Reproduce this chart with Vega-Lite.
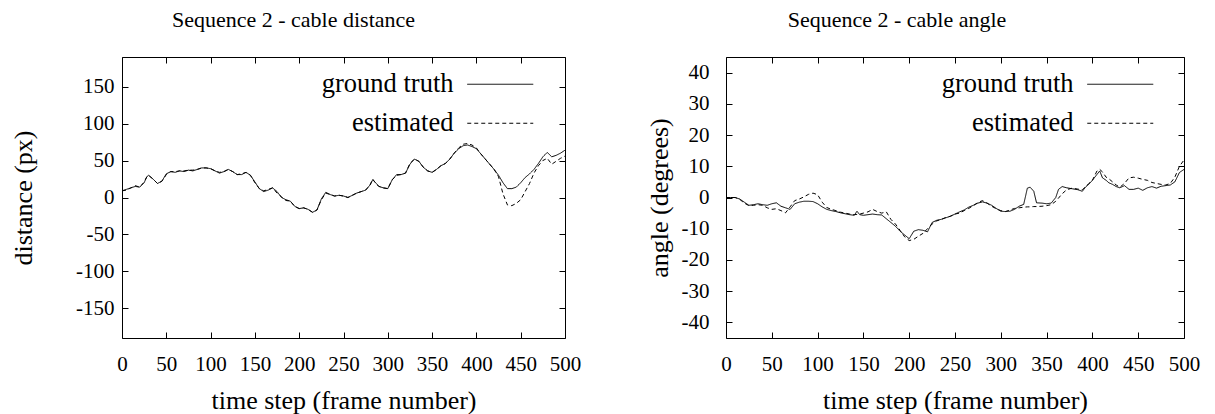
{
  "$schema": "https://vega.github.io/schema/vega-lite/v6.json",
  "background": "white",
  "padding": {"left": 10, "top": 8, "right": 0, "bottom": 0},
  "spacing": 161,
  "bounds": "flush",
  "datasets": {
    "dist": [
      {"t":0,"ground truth":9,"estimated":9},{"t":5,"ground truth":11,"estimated":10},{"t":10,"ground truth":13,"estimated":13},{"t":15,"ground truth":15,"estimated":16},{"t":20,"ground truth":14,"estimated":14},{"t":25,"ground truth":20,"estimated":21},{"t":28,"ground truth":28,"estimated":28},{"t":30,"ground truth":30,"estimated":30},{"t":35,"ground truth":25,"estimated":25},{"t":40,"ground truth":19,"estimated":19},{"t":45,"ground truth":22,"estimated":22},{"t":50,"ground truth":32,"estimated":31},{"t":55,"ground truth":35,"estimated":35},{"t":60,"ground truth":34,"estimated":35},{"t":65,"ground truth":36,"estimated":36},{"t":70,"ground truth":35,"estimated":36},{"t":75,"ground truth":37,"estimated":37},{"t":80,"ground truth":36,"estimated":37},{"t":85,"ground truth":38,"estimated":38},{"t":90,"ground truth":40,"estimated":40},{"t":95,"ground truth":40,"estimated":40},{"t":100,"ground truth":39,"estimated":39},{"t":105,"ground truth":36,"estimated":36},{"t":110,"ground truth":33,"estimated":34},{"t":115,"ground truth":35,"estimated":35},{"t":120,"ground truth":38,"estimated":38},{"t":125,"ground truth":35,"estimated":35},{"t":130,"ground truth":31,"estimated":31},{"t":135,"ground truth":31,"estimated":32},{"t":140,"ground truth":34,"estimated":34},{"t":145,"ground truth":30,"estimated":30},{"t":150,"ground truth":21,"estimated":20},{"t":155,"ground truth":12,"estimated":12},{"t":160,"ground truth":8,"estimated":9},{"t":165,"ground truth":10,"estimated":11},{"t":170,"ground truth":13,"estimated":13},{"t":175,"ground truth":8,"estimated":6},{"t":180,"ground truth":0,"estimated":1},{"t":185,"ground truth":-3,"estimated":-4},{"t":190,"ground truth":-5,"estimated":-5},{"t":195,"ground truth":-12,"estimated":-12},{"t":200,"ground truth":-15,"estimated":-15},{"t":205,"ground truth":-14,"estimated":-14},{"t":210,"ground truth":-16,"estimated":-16},{"t":215,"ground truth":-20,"estimated":-20},{"t":220,"ground truth":-17,"estimated":-17},{"t":225,"ground truth":-2,"estimated":-3},{"t":230,"ground truth":7,"estimated":6},{"t":235,"ground truth":4,"estimated":4},{"t":240,"ground truth":2,"estimated":2},{"t":245,"ground truth":3,"estimated":3},{"t":250,"ground truth":2,"estimated":2},{"t":255,"ground truth":0,"estimated":0},{"t":260,"ground truth":3,"estimated":3},{"t":265,"ground truth":6,"estimated":6},{"t":270,"ground truth":8,"estimated":8},{"t":275,"ground truth":10,"estimated":10},{"t":280,"ground truth":17,"estimated":17},{"t":283,"ground truth":24,"estimated":25},{"t":287,"ground truth":19,"estimated":18},{"t":290,"ground truth":15,"estimated":15},{"t":295,"ground truth":13,"estimated":13},{"t":300,"ground truth":12,"estimated":12},{"t":305,"ground truth":24,"estimated":24},{"t":310,"ground truth":31,"estimated":30},{"t":315,"ground truth":31,"estimated":31},{"t":320,"ground truth":33,"estimated":33},{"t":325,"ground truth":45,"estimated":46},{"t":330,"ground truth":52,"estimated":52},{"t":335,"ground truth":49,"estimated":49},{"t":340,"ground truth":41,"estimated":41},{"t":345,"ground truth":36,"estimated":36},{"t":350,"ground truth":34,"estimated":34},{"t":355,"ground truth":38,"estimated":38},{"t":360,"ground truth":43,"estimated":43},{"t":365,"ground truth":46,"estimated":46},{"t":370,"ground truth":52,"estimated":52},{"t":375,"ground truth":60,"estimated":60},{"t":380,"ground truth":66,"estimated":67},{"t":385,"ground truth":70,"estimated":72},{"t":390,"ground truth":71,"estimated":73},{"t":395,"ground truth":69,"estimated":71},{"t":400,"ground truth":66,"estimated":67},{"t":405,"ground truth":59,"estimated":59},{"t":410,"ground truth":52,"estimated":52},{"t":415,"ground truth":45,"estimated":45},{"t":420,"ground truth":38,"estimated":38},{"t":425,"ground truth":30,"estimated":28},{"t":430,"ground truth":20,"estimated":5},{"t":435,"ground truth":12,"estimated":-10},{"t":440,"ground truth":12,"estimated":-11},{"t":445,"ground truth":14,"estimated":-8},{"t":450,"ground truth":20,"estimated":-3},{"t":455,"ground truth":27,"estimated":8},{"t":460,"ground truth":32,"estimated":19},{"t":465,"ground truth":38,"estimated":33},{"t":470,"ground truth":46,"estimated":43},{"t":475,"ground truth":55,"estimated":50},{"t":480,"ground truth":61,"estimated":53},{"t":485,"ground truth":55,"estimated":45},{"t":490,"ground truth":57,"estimated":49},{"t":495,"ground truth":60,"estimated":53},{"t":500,"ground truth":64,"estimated":56}
    ],
    "ang": [
      {"t":0,"ground truth":0,"estimated":0},{"t":5,"ground truth":0,"estimated":0},{"t":10,"ground truth":0,"estimated":0},{"t":15,"ground truth":-0.5,"estimated":-0.6},{"t":20,"ground truth":-1.5,"estimated":-1.8},{"t":25,"ground truth":-2.5,"estimated":-2.6},{"t":30,"ground truth":-2.3,"estimated":-2.5},{"t":35,"ground truth":-2,"estimated":-2.3},{"t":40,"ground truth":-2.3,"estimated":-2.5},{"t":45,"ground truth":-2.5,"estimated":-3.3},{"t":50,"ground truth":-2,"estimated":-3.8},{"t":55,"ground truth":-1.7,"estimated":-3.6},{"t":60,"ground truth":-2.8,"estimated":-4.2},{"t":65,"ground truth":-3.3,"estimated":-4.9},{"t":70,"ground truth":-3.8,"estimated":-3},{"t":75,"ground truth":-2,"estimated":-1},{"t":80,"ground truth":-1.5,"estimated":-0.5},{"t":85,"ground truth":-1.2,"estimated":0.2},{"t":90,"ground truth":-1.2,"estimated":1},{"t":95,"ground truth":-1.3,"estimated":1.4},{"t":100,"ground truth":-2,"estimated":0.9},{"t":105,"ground truth":-3,"estimated":-1.5},{"t":110,"ground truth":-3.8,"estimated":-3.2},{"t":115,"ground truth":-4.2,"estimated":-3.8},{"t":120,"ground truth":-4.5,"estimated":-4.2},{"t":125,"ground truth":-4.9,"estimated":-4.7},{"t":130,"ground truth":-5.2,"estimated":-5},{"t":135,"ground truth":-5.5,"estimated":-5.3},{"t":140,"ground truth":-5.7,"estimated":-5.5},{"t":143,"ground truth":-4.4,"estimated":-5.4},{"t":146,"ground truth":-5.5,"estimated":-5.3},{"t":150,"ground truth":-5.7,"estimated":-5},{"t":155,"ground truth":-5.5,"estimated":-4.6},{"t":160,"ground truth":-5.3,"estimated":-3.8},{"t":165,"ground truth":-5.5,"estimated":-4.5},{"t":170,"ground truth":-5.6,"estimated":-5},{"t":175,"ground truth":-6.8,"estimated":-4.6},{"t":180,"ground truth":-8,"estimated":-7},{"t":185,"ground truth":-9.2,"estimated":-8.5},{"t":190,"ground truth":-10.8,"estimated":-10.5},{"t":195,"ground truth":-12,"estimated":-12.6},{"t":200,"ground truth":-13.2,"estimated":-13.8},{"t":205,"ground truth":-10.8,"estimated":-13.4},{"t":210,"ground truth":-10.3,"estimated":-12.4},{"t":215,"ground truth":-10.5,"estimated":-11.5},{"t":220,"ground truth":-11,"estimated":-10},{"t":225,"ground truth":-8,"estimated":-8.5},{"t":230,"ground truth":-7.3,"estimated":-7.5},{"t":235,"ground truth":-7,"estimated":-7},{"t":240,"ground truth":-6.5,"estimated":-6.4},{"t":245,"ground truth":-6,"estimated":-6},{"t":250,"ground truth":-5.3,"estimated":-5.3},{"t":255,"ground truth":-4.6,"estimated":-5},{"t":260,"ground truth":-4,"estimated":-4.2},{"t":265,"ground truth":-3.1,"estimated":-3.5},{"t":270,"ground truth":-2.5,"estimated":-2.6},{"t":275,"ground truth":-1.8,"estimated":-1.6},{"t":280,"ground truth":-1.4,"estimated":-1},{"t":285,"ground truth":-1.8,"estimated":-1.8},{"t":290,"ground truth":-2.5,"estimated":-2.8},{"t":295,"ground truth":-3.5,"estimated":-3.6},{"t":300,"ground truth":-4.4,"estimated":-4.2},{"t":305,"ground truth":-4.5,"estimated":-4.5},{"t":310,"ground truth":-4.4,"estimated":-4},{"t":315,"ground truth":-3.8,"estimated":-3.5},{"t":320,"ground truth":-2.8,"estimated":-3.3},{"t":325,"ground truth":-2.2,"estimated":-3.1},{"t":329,"ground truth":3,"estimated":-3},{"t":332,"ground truth":3.3,"estimated":-3},{"t":336,"ground truth":2,"estimated":-2.9},{"t":339,"ground truth":-1.7,"estimated":-2.9},{"t":345,"ground truth":-1.8,"estimated":-2.8},{"t":350,"ground truth":-2,"estimated":-2.6},{"t":355,"ground truth":-1.8,"estimated":-2.3},{"t":360,"ground truth":0,"estimated":-1.2},{"t":363,"ground truth":2.6,"estimated":-0.2},{"t":367,"ground truth":3.5,"estimated":1.2},{"t":372,"ground truth":3.1,"estimated":2.5},{"t":378,"ground truth":2.8,"estimated":3},{"t":384,"ground truth":2.5,"estimated":2.7},{"t":389,"ground truth":2,"estimated":2.5},{"t":393,"ground truth":3.5,"estimated":3.5},{"t":396,"ground truth":4.2,"estimated":4.5},{"t":400,"ground truth":5.5,"estimated":5.5},{"t":405,"ground truth":7.4,"estimated":8.5},{"t":408,"ground truth":8.5,"estimated":9},{"t":411,"ground truth":6.3,"estimated":8.2},{"t":415,"ground truth":5.5,"estimated":6.5},{"t":418,"ground truth":4.7,"estimated":6},{"t":422,"ground truth":4.2,"estimated":5},{"t":426,"ground truth":3.5,"estimated":4},{"t":430,"ground truth":3.1,"estimated":3.3},{"t":435,"ground truth":3.8,"estimated":4.5},{"t":440,"ground truth":2.6,"estimated":6.3},{"t":445,"ground truth":2.6,"estimated":6.5},{"t":450,"ground truth":3,"estimated":6.2},{"t":455,"ground truth":2.3,"estimated":5.8},{"t":460,"ground truth":3.1,"estimated":5.5},{"t":465,"ground truth":3.5,"estimated":4.8},{"t":470,"ground truth":3,"estimated":4.5},{"t":475,"ground truth":3.6,"estimated":4.2},{"t":480,"ground truth":3.8,"estimated":4},{"t":485,"ground truth":4,"estimated":4.5},{"t":490,"ground truth":5,"estimated":6.5},{"t":495,"ground truth":8,"estimated":10},{"t":500,"ground truth":9,"estimated":12}
    ]
  },
  "hconcat": [
    {
      "width": 443,
      "height": 281,
      "title": {"text": "Sequence 2 - cable distance", "dx": -50, "offset": 8, "baseline": "alphabetic"},
      "data": {"name": "dist"},
      "transform": [{"fold": ["ground truth", "estimated"], "as": ["series", "value"]}],
      "layer": [
        {
          "mark": {"type": "line", "strokeWidth": 1, "color": "black"},
          "encoding": {
            "x": {"field": "t", "type": "quantitative", "scale": {"domain": [0, 500], "nice": false},
                  "axis": {"orient": "bottom", "title": "time step (frame number)", "values": [0,50,100,150,200,250,300,350,400,450,500], "labelPadding": 21, "titlePadding": 13}},
            "y": {"field": "value", "type": "quantitative", "scale": {"domain": [-190, 190], "nice": false},
                  "axis": {"orient": "left", "title": "distance (px)", "values": [-150,-100,-50,0,50,100,150], "labelPadding": 14, "titlePadding": 39}},
            "strokeDash": {"field": "series", "type": "nominal",
                  "scale": {"domain": ["ground truth", "estimated"], "range": [[1, 0], [4, 3]]},
                  "legend": {"title": null, "orient": "none", "legendX": 365, "legendY": 14}}
          }
        },
        {
          "mark": {"type": "point", "opacity": 0, "size": 1},
          "encoding": {
            "x": {"field": "t", "type": "quantitative", "axis": {"orient": "top", "labels": false, "title": null, "values": [0,50,100,150,200,250,300,350,400,450,500]}},
            "y": {"field": "value", "type": "quantitative", "axis": {"orient": "right", "labels": false, "title": null, "values": [-150,-100,-50,0,50,100,150]}}
          }
        }
      ],
      "resolve": {"axis": {"x": "independent", "y": "independent"}}
    },
    {
      "width": 458,
      "height": 281,
      "title": {"text": "Sequence 2 - cable angle", "dx": -58, "offset": 8, "baseline": "alphabetic"},
      "data": {"name": "ang"},
      "transform": [{"fold": ["ground truth", "estimated"], "as": ["series", "value"]}],
      "layer": [
        {
          "mark": {"type": "line", "strokeWidth": 1, "color": "black"},
          "encoding": {
            "x": {"field": "t", "type": "quantitative", "scale": {"domain": [0, 500], "nice": false},
                  "axis": {"orient": "bottom", "title": "time step (frame number)", "values": [0,50,100,150,200,250,300,350,400,450,500], "labelPadding": 21, "titlePadding": 13}},
            "y": {"field": "value", "type": "quantitative", "scale": {"domain": [-45, 45], "nice": false},
                  "axis": {"orient": "left", "title": "angle (degrees)", "values": [-40,-30,-20,-10,0,10,20,30,40], "labelPadding": 23, "titlePadding": 9}},
            "strokeDash": {"field": "series", "type": "nominal",
                  "scale": {"domain": ["ground truth", "estimated"], "range": [[1, 0], [4, 3]]},
                  "legend": {"title": null, "orient": "none", "legendX": 381, "legendY": 14}}
          }
        },
        {
          "mark": {"type": "point", "opacity": 0, "size": 1},
          "encoding": {
            "x": {"field": "t", "type": "quantitative", "axis": {"orient": "top", "labels": false, "title": null, "values": [0,50,100,150,200,250,300,350,400,450,500]}},
            "y": {"field": "value", "type": "quantitative", "axis": {"orient": "right", "labels": false, "title": null, "values": [-40,-30,-20,-10,0,10,20,30,40]}}
          }
        }
      ],
      "resolve": {"axis": {"x": "independent", "y": "independent"}}
    }
  ],
  "resolve": {"scale": {"strokeDash": "independent"}, "legend": {"strokeDash": "independent"}},
  "config": {
    "font": "Liberation Serif",
    "view": {"stroke": "black", "strokeWidth": 1},
    "axis": {"labelFont": "Liberation Serif", "labelFontSize": 21, "labelColor": "black", "labelExpr": "'' + datum.value", "titleFont": "Liberation Serif", "titleFontSize": 26, "titleFontWeight": "normal", "titleColor": "black", "tickColor": "black", "tickSize": -6, "tickWidth": 1, "domain": false, "grid": false, "labelFlush": false, "labelOverlap": false},
    "title": {"font": "Liberation Serif", "fontSize": 22, "fontWeight": "normal", "color": "black", "anchor": "middle"},
    "legend": {"symbolType": "M-3,0H3", "symbolSize": 484, "symbolStrokeWidth": 1, "symbolStrokeColor": "black", "symbolFillColor": "transparent", "labelAlign": "right", "labelOffset": -60, "labelFont": "Liberation Serif", "labelFontSize": 26.5, "labelColor": "black", "rowPadding": 12, "padding": 0, "labelLimit": 300}
  }
}
